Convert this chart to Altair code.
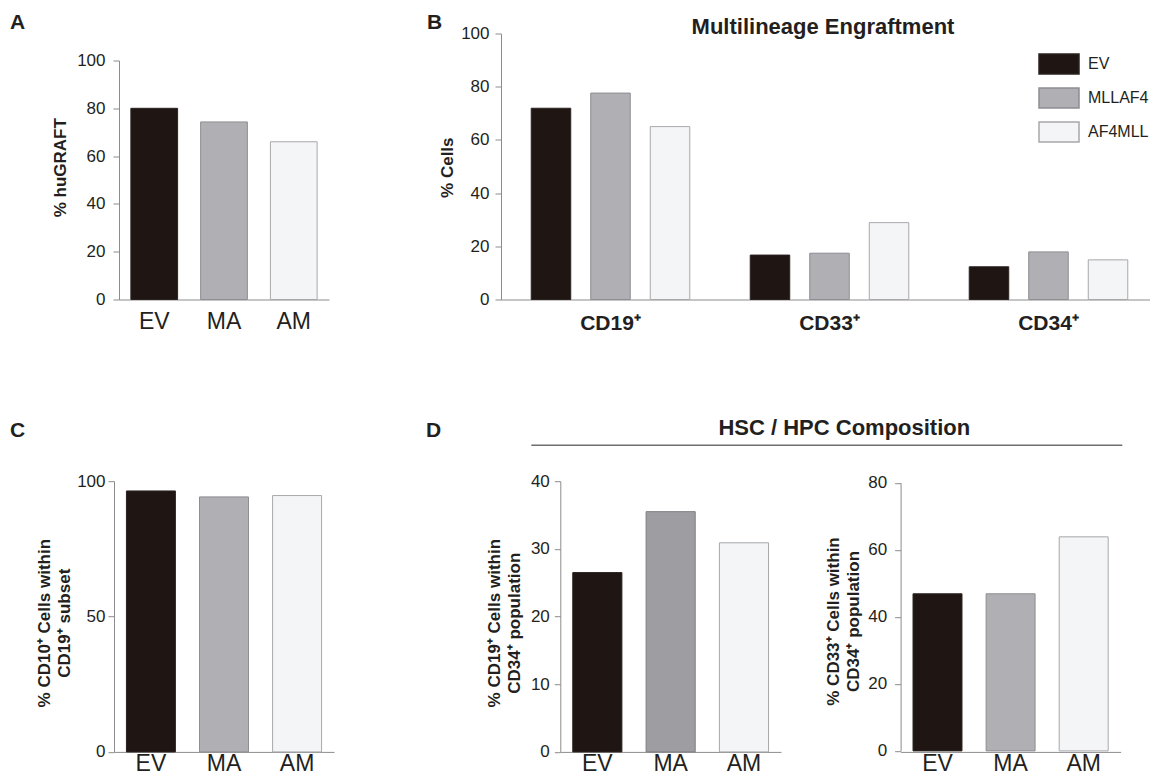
import altair as alt
import pandas as pd

# ---- data ----
groups3 = ["EV", "MA", "AM"]
a_vals = [80.0, 74.3, 66.0]

b_cats = ["CD19⁺", "CD33⁺", "CD34⁺"]
b_series = ["EV", "MLLAF4", "AF4MLL"]
b_ev = [71.9, 16.7, 12.3]
b_mllaf4 = [77.6, 17.4, 17.9]
b_af4mll = [65.0, 28.9, 14.9]

c_vals = [96.4, 94.2, 94.7]
d1_vals = [26.5, 35.5, 30.9]
d2_vals = [46.9, 46.9, 63.9]

fills = ["#1f1613", "#b0afb4", "#f4f5f7"]
strokes = ["#2a2220", "#8e8d92", "#a8a8ab"]
fills_d1 = ["#1f1613", "#9e9da2", "#f4f5f7"]
strokes_d1 = ["#2a2220", "#7f7e83", "#a8a8ab"]

INK = "#231f20"
AXC = "#8c8c8c"
FONT = "Liberation Sans"


def label(text, x, y, size=21, align="left"):
    return alt.Chart(pd.DataFrame({"t": [text]})).mark_text(
        align=align, baseline="alphabetic", fontSize=size, fontWeight="bold",
        color=INK, font=FONT
    ).encode(text="t:N", x=alt.value(x), y=alt.value(y))


def bar_panel(vals, f, s, ydomain, yticks, yrange, xrange, title, titleX, titleY,
              ylabpad, xlabpad, offset=0):
    df = pd.DataFrame({"g": groups3, "v": vals})
    return alt.Chart(df).mark_bar(strokeWidth=1).encode(
        x=alt.X("g:N", sort=groups3,
                scale=alt.Scale(domain=groups3, paddingInner=0.33, paddingOuter=0.17, range=xrange),
                axis=alt.Axis(title=None, labelAngle=0, ticks=False, labelFontSize=23,
                              labelPadding=xlabpad, domainColor=AXC, labelColor=INK)),
        y=alt.Y("v:Q", scale=alt.Scale(domain=ydomain, range=yrange, nice=False),
                axis=alt.Axis(values=yticks, title=title, titleX=titleX, titleY=titleY,
                              titleAngle=270, titleAlign="center", titleBaseline="middle",
                              titleLineHeight=20, offset=offset, tickSize=6,
                              labelPadding=ylabpad, grid=False)),
        fill=alt.Fill("g:N", scale=alt.Scale(domain=groups3, range=f), legend=None),
        stroke=alt.Stroke("g:N", scale=alt.Scale(domain=groups3, range=s), legend=None),
    )


# ---- Panel A ----
A = alt.layer(
    bar_panel(a_vals, fills, strokes, [0, 100], [0, 20, 40, 60, 80, 100], [266, 27], [5, 215],
              "% huGRAFT", -59, 133.7, 8, 11, offset=-5),
    label("A", -104, -5),
).properties(width=215, height=266)

# ---- Panel B ----
df_b = pd.DataFrame({
    "cat": b_cats * 3,
    "series": [b_series[0]] * 3 + [b_series[1]] * 3 + [b_series[2]] * 3,
    "v": b_ev + b_mllaf4 + b_af4mll,
})
leg = dict(title=None, orient="none", legendX=537, legendY=9.4,
           symbolType="M-1,-0.5H1V0.5H-1Z", symbolSize=1600, symbolStrokeWidth=1.5,
           labelFontSize=16, labelOffset=8, rowPadding=-12, padding=0,
           labelColor=INK, symbolOpacity=1, labelFont=FONT)
B_bars = alt.Chart(df_b).mark_bar(strokeWidth=1).encode(
    x=alt.X("cat:N", sort=b_cats, scale=alt.Scale(domain=b_cats, paddingInner=0, paddingOuter=0),
            axis=alt.Axis(title=None, labelAngle=0, ticks=False, labelFontSize=21,
                          labelFontWeight="bold", labelPadding=12.5, domainColor=AXC)),
    xOffset=alt.XOffset("series:N", sort=b_series,
                        scale=alt.Scale(domain=b_series, paddingInner=0.336, paddingOuter=0.508)),
    y=alt.Y("v:Q", scale=alt.Scale(domain=[0, 100], nice=False),
            axis=alt.Axis(values=[0, 20, 40, 60, 80, 100], title="% Cells", titleX=-54,
                          titleY=133.7, titleAngle=270, titleAlign="center",
                          titleBaseline="middle", tickSize=6, labelPadding=6, grid=False)),
    fill=alt.Fill("series:N", sort=b_series, scale=alt.Scale(domain=b_series, range=fills),
                  legend=alt.Legend(**leg)),
    stroke=alt.Stroke("series:N", sort=b_series, scale=alt.Scale(domain=b_series, range=strokes),
                      legend=alt.Legend(**leg)),
)
B = alt.layer(
    B_bars,
    label("B", -74, -5),
    label("Multilineage Engraftment", 322, 0, size=22, align="center"),
).properties(width=657, height=266)

# ---- Panel C ----
C = alt.layer(
    bar_panel(c_vals, fills, strokes, [0, 100], [0, 50, 100], [270.7, 0], [0, 220],
              ["% CD10⁺ Cells within", "CD19⁺ subset"], -70, 141.5, 3, 1),
    label("C", -104, -44),
).properties(width=326.7, height=270.7)

# ---- Panel D ----
D1 = alt.layer(
    bar_panel(d1_vals, fills_d1, strokes_d1, [0, 40], [0, 10, 20, 30, 40], [270.7, 0], [0, 220.7],
              ["% CD19⁺ Cells within", "CD34⁺ population"], -65.4, 141.5, 5, 1),
    label("D", -134.3, -44),
    label("HSC / HPC Composition", 284, -46, size=22, align="center"),
    alt.Chart(pd.DataFrame({"t": [0]})).mark_rule(color="#6e6e6e", strokeWidth=1.5).encode(
        x=alt.value(-29), x2=alt.value(562), y=alt.value(-36)),
).properties(width=220.7, height=270.7)

D2 = alt.layer(
    bar_panel(d2_vals, fills, strokes, [0, 80], [0, 20, 40, 60, 80], [269.7, 1.7], [0, 220],
              ["% CD33⁺ Cells within", "CD34⁺ population"], -67.5, 139.8, 8, 1),
).properties(width=220, height=270.7)

ind = dict(fill="independent", stroke="independent")
row1 = alt.hconcat(A, B, spacing=172, bounds="flush").resolve_scale(**ind)
row2 = alt.hconcat(C, D1, D2, spacing=119.3, bounds="flush").resolve_scale(**ind)

chart = alt.vconcat(row1, row2, spacing=447.7, bounds="flush").resolve_scale(**ind).properties(
    padding={"left": 2, "top": 3.5, "right": -8, "bottom": -4.5},
    background="white",
).configure_view(stroke=None).configure_axis(
    labelFont=FONT, titleFont=FONT, labelColor=INK, titleColor=INK,
    domainColor=AXC, tickColor=AXC, labelFontSize=17, titleFontSize=17,
    titleFontWeight="bold", domainWidth=1,
).configure_legend(labelFont=FONT).configure_text(font=FONT)

chart.save("out.html", embed_options={"renderer": "svg", "actions": False})
